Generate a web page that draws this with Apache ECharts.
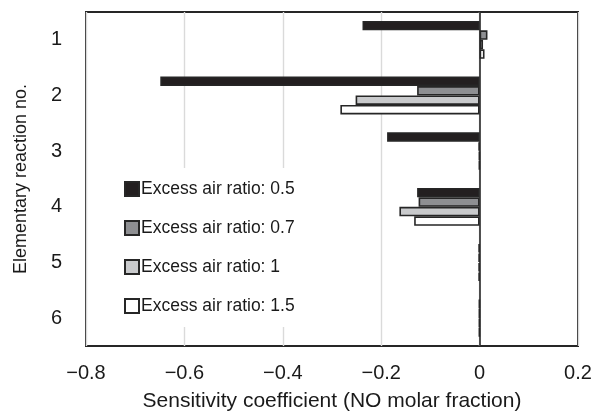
<!DOCTYPE html>
<html>
<head>
<meta charset="utf-8">
<script src="https://cdn.jsdelivr.net/npm/echarts@6/dist/echarts.min.js"></script>
<style>html,body{margin:0;padding:0;background:#fff}#c{width:595px;height:414px}</style>
</head>
<body>
<div id="c"></div>
<script>
const categories = ['1', '2', '3', '4', '5', '6'];
const seriesNames = ['Excess air ratio: 0.5', 'Excess air ratio: 0.7', 'Excess air ratio: 1', 'Excess air ratio: 1.5'];
const ratio05 = [-0.238, -0.649, -0.188, -0.127, -0.002, -0.001];
const ratio07 = [0.016, -0.127, -0.002, -0.124, -0.002, -0.001];
const ratio10 = [0.007, -0.252, -0.001, -0.163, -0.002, -0.001];
const ratio15 = [0.010, -0.283, -0.001, -0.133, -0.002, -0.001];
const xTicks = { min: -0.8, max: 0.2, interval: 0.2 };

const fills = ['#231f20', '#8e8f92', '#c9cacc', '#ffffff'];
const values = [ratio05, ratio07, ratio10, ratio15];
const FONT = "'Liberation Sans', Arial, sans-serif";

const series = values.map((v, i) => ({
  name: seriesNames[i],
  type: 'bar',
  data: v,
  barGap: '0%',
  barCategoryGap: '32%',
  itemStyle: { color: fills[i], borderColor: '#262626', borderWidth: 1.6 },
  silent: true,
  markLine: i === 0 ? {
    silent: true, symbol: 'none', label: { show: false },
    lineStyle: { color: '#262626', width: 1.6, type: 'solid' },
    data: [{ xAxis: 0 }], z: 10
  } : undefined
}));

const chart = echarts.init(document.getElementById('c'), null, { renderer: 'canvas' });
chart.setOption({
  animation: false,
  backgroundColor: '#fff',
  grid: { left: 86, right: 17, top: 12, bottom: 68, outerBoundsMode: 'none', containLabel: false, show: true, borderColor: '#262626', borderWidth: 2, backgroundColor: 'transparent' },
  legend: {
    orient: 'vertical', left: 116, top: 168,
    backgroundColor: '#fff',
    padding: [12, 10, 12, 8],
    itemWidth: 14, itemHeight: 14, itemGap: 21,
    icon: 'rect',
    textStyle: { fontFamily: FONT, fontSize: 17.5, color: '#1a1a1a', lineHeight: 18, padding: [0, 0, 0, -3] },
    data: seriesNames
  },
  xAxis: {
    type: 'value', min: xTicks.min, max: xTicks.max, interval: xTicks.interval,
    axisLine: { show: false }, axisTick: { show: false },
    splitLine: { show: true, lineStyle: { color: '#dadada', width: 1.4 } },
    axisLabel: {
      margin: 17, fontFamily: FONT, fontSize: 20, color: '#1a1a1a',
      formatter: v => (Math.abs(v) < 1e-9 ? '0' : String(Math.round(v * 10) / 10).replace('-', '\u2212'))
    },
    name: 'Sensitivity coefficient (NO molar fraction)',
    nameLocation: 'middle', nameGap: 45,
    nameTextStyle: { fontFamily: FONT, fontSize: 21, color: '#1a1a1a' }
  },
  yAxis: {
    type: 'category', data: categories, inverse: true,
    axisLine: { show: false }, axisTick: { show: false },
    axisLabel: { margin: 24, fontFamily: FONT, fontSize: 20, color: '#1a1a1a' },
    name: 'Elementary reaction no.',
    nameLocation: 'middle', nameGap: 56, nameRotate: 90,
    nameTextStyle: { fontFamily: FONT, fontSize: 18, color: '#1a1a1a' }
  },
  series: series
});
</script>
</body>
</html>
